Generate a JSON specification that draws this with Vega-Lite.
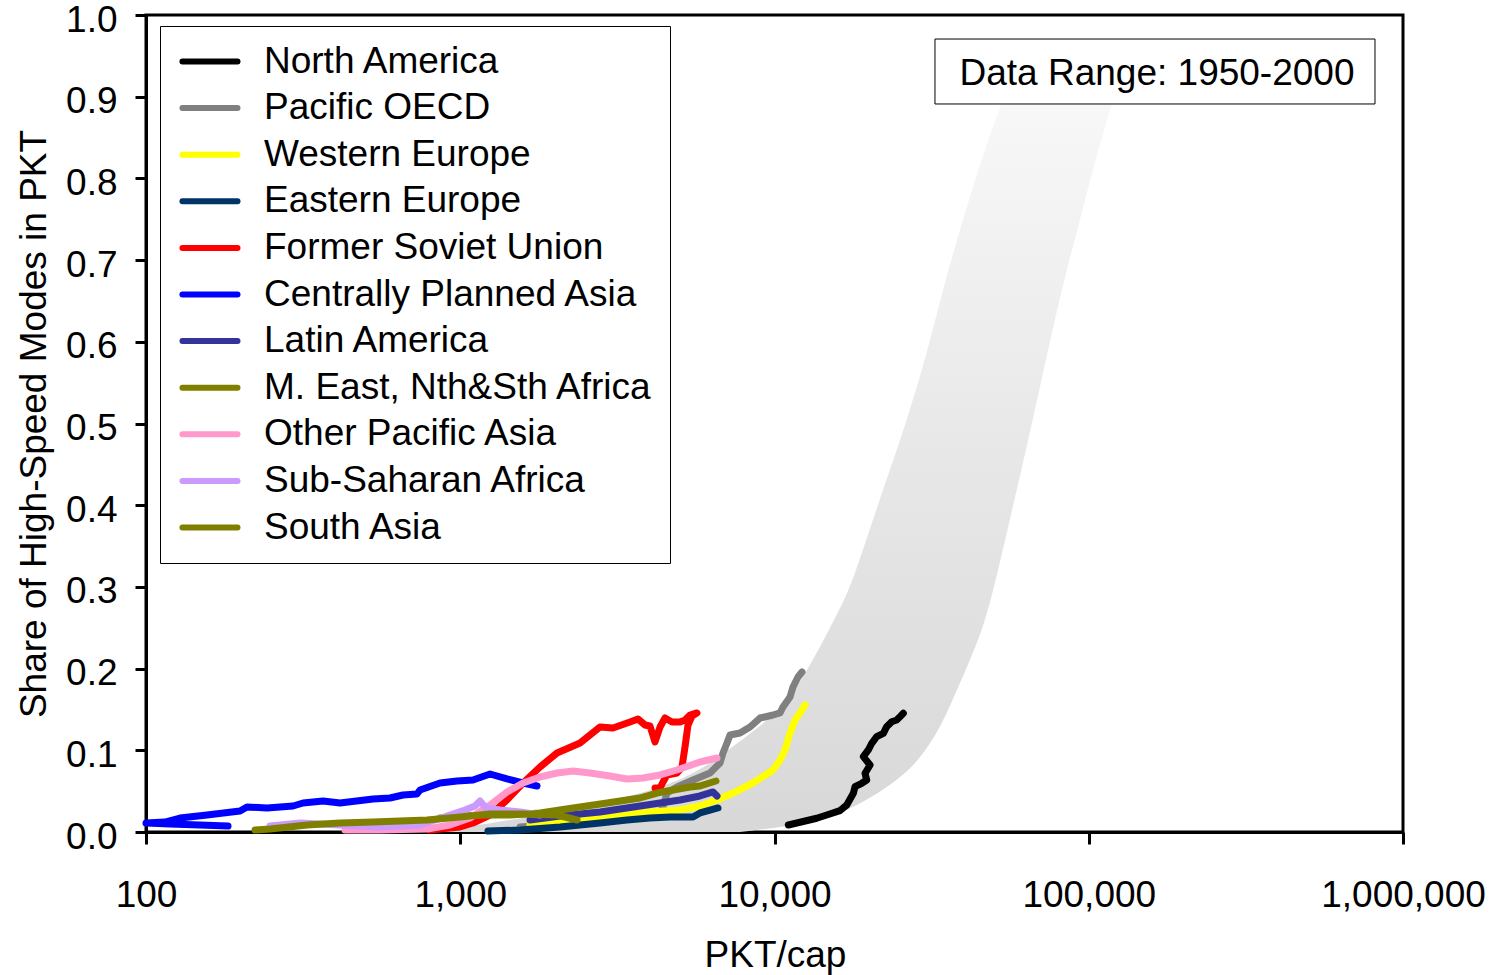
{
  "$schema": "https://vega.github.io/schema/vega-lite/v6.json",
  "width": 1257,
  "height": 817,
  "autosize": {"type": "none"},
  "padding": {"left": 146, "top": 15, "right": 89, "bottom": 143},
  "background": "white",
  "config": {
    "font": "Liberation Sans",
    "view": {"stroke": "#000", "strokeWidth": 3},
    "axis": {"grid": false, "domainColor": "#000", "domainWidth": 3, "tickColor": "#000", "tickWidth": 3, "labelColor": "#000", "titleColor": "#000", "labelFont": "Liberation Sans", "titleFont": "Liberation Sans", "titleFontWeight": "normal"}
  },
  "datasets": {
    "band": [
      {"y": 0.0, "xl": 745, "xr": 7766},
      {"y": 0.01, "xl": 1243, "xr": 12790},
      {"y": 0.025, "xl": 2077, "xr": 16880},
      {"y": 0.05, "xl": 4166, "xr": 21990},
      {"y": 0.075, "xl": 5793, "xr": 26790},
      {"y": 0.1, "xl": 7112, "xr": 30350},
      {"y": 0.13, "xl": 9058, "xr": 33870},
      {"y": 0.16, "xl": 11040, "xr": 36710},
      {"y": 0.21, "xl": 13260, "xr": 41890},
      {"y": 0.25, "xl": 15020, "xr": 46070},
      {"y": 0.29, "xl": 17010, "xr": 49230},
      {"y": 0.33, "xl": 18570, "xr": 52190},
      {"y": 0.42, "xl": 22150, "xr": 59100},
      {"y": 0.5, "xl": 26210, "xr": 65970},
      {"y": 0.59, "xl": 30800, "xr": 74190},
      {"y": 0.67, "xl": 34630, "xr": 82800},
      {"y": 0.75, "xl": 39800, "xr": 93800},
      {"y": 0.83, "xl": 46070, "xr": 106250},
      {"y": 0.9, "xl": 53750, "xr": 120300}
    ],
    "lines": [
      {"r": "North America", "o": 1, "x": 11065, "y": 0.0086},
      {"r": "North America", "o": 2, "x": 12053, "y": 0.0119},
      {"r": "North America", "o": 3, "x": 13625, "y": 0.0168},
      {"r": "North America", "o": 4, "x": 14660, "y": 0.0208},
      {"r": "North America", "o": 5, "x": 16160, "y": 0.0261},
      {"r": "North America", "o": 6, "x": 16980, "y": 0.0330},
      {"r": "North America", "o": 7, "x": 17820, "y": 0.0474},
      {"r": "North America", "o": 8, "x": 18040, "y": 0.0554},
      {"r": "North America", "o": 9, "x": 18950, "y": 0.0596},
      {"r": "North America", "o": 10, "x": 19660, "y": 0.0636},
      {"r": "North America", "o": 11, "x": 19410, "y": 0.0718},
      {"r": "North America", "o": 12, "x": 20140, "y": 0.0820},
      {"r": "North America", "o": 13, "x": 19170, "y": 0.0922},
      {"r": "North America", "o": 14, "x": 19890, "y": 0.1004},
      {"r": "North America", "o": 15, "x": 20390, "y": 0.1086},
      {"r": "North America", "o": 16, "x": 21150, "y": 0.1167},
      {"r": "North America", "o": 17, "x": 22200, "y": 0.1208},
      {"r": "North America", "o": 18, "x": 22750, "y": 0.1289},
      {"r": "North America", "o": 19, "x": 23600, "y": 0.1350},
      {"r": "North America", "o": 20, "x": 24480, "y": 0.1371},
      {"r": "North America", "o": 21, "x": 25080, "y": 0.1411},
      {"r": "North America", "o": 22, "x": 25700, "y": 0.1453},

      {"r": "Pacific OECD", "o": 1, "x": 1550, "y": 0.0061},
      {"r": "Pacific OECD", "o": 2, "x": 2077, "y": 0.0098},
      {"r": "Pacific OECD", "o": 3, "x": 2784, "y": 0.0135},
      {"r": "Pacific OECD", "o": 4, "x": 3733, "y": 0.0184},
      {"r": "Pacific OECD", "o": 5, "x": 4322, "y": 0.0245},
      {"r": "Pacific OECD", "o": 6, "x": 4418, "y": 0.0306},
      {"r": "Pacific OECD", "o": 7, "x": 4549, "y": 0.0477},
      {"r": "Pacific OECD", "o": 8, "x": 4895, "y": 0.0551},
      {"r": "Pacific OECD", "o": 9, "x": 5504, "y": 0.0636},
      {"r": "Pacific OECD", "o": 10, "x": 6234, "y": 0.0722},
      {"r": "Pacific OECD", "o": 11, "x": 6708, "y": 0.0845},
      {"r": "Pacific OECD", "o": 12, "x": 6857, "y": 0.0967},
      {"r": "Pacific OECD", "o": 13, "x": 7061, "y": 0.1089},
      {"r": "Pacific OECD", "o": 14, "x": 7218, "y": 0.1187},
      {"r": "Pacific OECD", "o": 15, "x": 7766, "y": 0.1212},
      {"r": "Pacific OECD", "o": 16, "x": 8357, "y": 0.1285},
      {"r": "Pacific OECD", "o": 17, "x": 8991, "y": 0.1395},
      {"r": "Pacific OECD", "o": 18, "x": 9891, "y": 0.1432},
      {"r": "Pacific OECD", "o": 19, "x": 10411, "y": 0.1457},
      {"r": "Pacific OECD", "o": 20, "x": 10642, "y": 0.1530},
      {"r": "Pacific OECD", "o": 21, "x": 11202, "y": 0.1652},
      {"r": "Pacific OECD", "o": 22, "x": 11451, "y": 0.1775},
      {"r": "Pacific OECD", "o": 23, "x": 11878, "y": 0.1897},
      {"r": "Pacific OECD", "o": 24, "x": 12231, "y": 0.1958},

      {"r": "Western Europe", "o": 1, "x": 1667, "y": 0.0086},
      {"r": "Western Europe", "o": 2, "x": 2077, "y": 0.0135},
      {"r": "Western Europe", "o": 3, "x": 2587, "y": 0.0171},
      {"r": "Western Europe", "o": 4, "x": 3223, "y": 0.0208},
      {"r": "Western Europe", "o": 5, "x": 4016, "y": 0.0245},
      {"r": "Western Europe", "o": 6, "x": 5004, "y": 0.0269},
      {"r": "Western Europe", "o": 7, "x": 5793, "y": 0.0318},
      {"r": "Western Europe", "o": 8, "x": 6562, "y": 0.0392},
      {"r": "Western Europe", "o": 9, "x": 7378, "y": 0.0477},
      {"r": "Western Europe", "o": 10, "x": 8542, "y": 0.0600},
      {"r": "Western Europe", "o": 11, "x": 9891, "y": 0.0759},
      {"r": "Western Europe", "o": 12, "x": 10411, "y": 0.0881},
      {"r": "Western Europe", "o": 13, "x": 10799, "y": 0.1004},
      {"r": "Western Europe", "o": 14, "x": 11202, "y": 0.1212},
      {"r": "Western Europe", "o": 15, "x": 11620, "y": 0.1371},
      {"r": "Western Europe", "o": 16, "x": 12053, "y": 0.1457},
      {"r": "Western Europe", "o": 17, "x": 12503, "y": 0.1554},

      {"r": "Eastern Europe", "o": 1, "x": 1225, "y": 0.0012},
      {"r": "Eastern Europe", "o": 2, "x": 1550, "y": 0.0024},
      {"r": "Eastern Europe", "o": 3, "x": 2077, "y": 0.0061},
      {"r": "Eastern Europe", "o": 4, "x": 2784, "y": 0.0110},
      {"r": "Eastern Europe", "o": 5, "x": 3393, "y": 0.0147},
      {"r": "Eastern Europe", "o": 6, "x": 4016, "y": 0.0171},
      {"r": "Eastern Europe", "o": 7, "x": 4650, "y": 0.0184},
      {"r": "Eastern Europe", "o": 8, "x": 5504, "y": 0.0184},
      {"r": "Eastern Europe", "o": 9, "x": 5793, "y": 0.0233},
      {"r": "Eastern Europe", "o": 10, "x": 6234, "y": 0.0269},
      {"r": "Eastern Europe", "o": 11, "x": 6610, "y": 0.0294},

      {"r": "Former Soviet Union", "o": 1, "x": 801, "y": 0.0024},
      {"r": "Former Soviet Union", "o": 2, "x": 998, "y": 0.0061},
      {"r": "Former Soviet Union", "o": 3, "x": 1098, "y": 0.0110},
      {"r": "Former Soviet Union", "o": 4, "x": 1244, "y": 0.0208},
      {"r": "Former Soviet Union", "o": 5, "x": 1409, "y": 0.0392},
      {"r": "Former Soviet Union", "o": 6, "x": 1584, "y": 0.0600},
      {"r": "Former Soviet Union", "o": 7, "x": 1794, "y": 0.0796},
      {"r": "Former Soviet Union", "o": 8, "x": 2032, "y": 0.0967},
      {"r": "Former Soviet Union", "o": 9, "x": 2405, "y": 0.1089},
      {"r": "Former Soviet Union", "o": 10, "x": 2784, "y": 0.1285},
      {"r": "Former Soviet Union", "o": 11, "x": 3062, "y": 0.1273},
      {"r": "Former Soviet Union", "o": 12, "x": 3469, "y": 0.1346},
      {"r": "Former Soviet Union", "o": 13, "x": 3678, "y": 0.1383},
      {"r": "Former Soviet Union", "o": 14, "x": 3872, "y": 0.1310},
      {"r": "Former Soviet Union", "o": 15, "x": 4016, "y": 0.1297},
      {"r": "Former Soviet Union", "o": 16, "x": 4166, "y": 0.1102},
      {"r": "Former Soviet Union", "o": 17, "x": 4322, "y": 0.1285},
      {"r": "Former Soviet Union", "o": 18, "x": 4483, "y": 0.1395},
      {"r": "Former Soviet Union", "o": 19, "x": 4719, "y": 0.1346},
      {"r": "Former Soviet Union", "o": 20, "x": 5004, "y": 0.1346},
      {"r": "Former Soviet Union", "o": 21, "x": 5190, "y": 0.1371},
      {"r": "Former Soviet Union", "o": 22, "x": 5384, "y": 0.1432},
      {"r": "Former Soviet Union", "o": 23, "x": 5667, "y": 0.1457},
      {"r": "Former Soviet Union", "o": 24, "x": 5464, "y": 0.1420},
      {"r": "Former Soviet Union", "o": 25, "x": 5306, "y": 0.1310},
      {"r": "Former Soviet Union", "o": 26, "x": 5190, "y": 0.1040},
      {"r": "Former Soviet Union", "o": 27, "x": 5078, "y": 0.0796},
      {"r": "Former Soviet Union", "o": 28, "x": 4895, "y": 0.0722},
      {"r": "Former Soviet Union", "o": 29, "x": 4549, "y": 0.0698},
      {"r": "Former Soviet Union", "o": 30, "x": 4418, "y": 0.0612},
      {"r": "Former Soviet Union", "o": 31, "x": 4322, "y": 0.0539},
      {"r": "Former Soviet Union", "o": 32, "x": 4166, "y": 0.0539},

      {"r": "Centrally Planned Asia", "o": 1, "x": 182.4, "y": 0.0073},
      {"r": "Centrally Planned Asia", "o": 2, "x": 148.5, "y": 0.0086},
      {"r": "Centrally Planned Asia", "o": 3, "x": 119.2, "y": 0.0098},
      {"r": "Centrally Planned Asia", "o": 4, "x": 100, "y": 0.0110},
      {"r": "Centrally Planned Asia", "o": 5, "x": 114.9, "y": 0.0122},
      {"r": "Centrally Planned Asia", "o": 6, "x": 128.3, "y": 0.0171},
      {"r": "Centrally Planned Asia", "o": 7, "x": 156.4, "y": 0.0208},
      {"r": "Centrally Planned Asia", "o": 8, "x": 199.2, "y": 0.0257},
      {"r": "Centrally Planned Asia", "o": 9, "x": 209.6, "y": 0.0306},
      {"r": "Centrally Planned Asia", "o": 10, "x": 242.7, "y": 0.0294},
      {"r": "Centrally Planned Asia", "o": 11, "x": 293.7, "y": 0.0318},
      {"r": "Centrally Planned Asia", "o": 12, "x": 316.0, "y": 0.0355},
      {"r": "Centrally Planned Asia", "o": 13, "x": 365.9, "y": 0.0379},
      {"r": "Centrally Planned Asia", "o": 14, "x": 414.4, "y": 0.0355},
      {"r": "Centrally Planned Asia", "o": 15, "x": 527.8, "y": 0.0404},
      {"r": "Centrally Planned Asia", "o": 16, "x": 597.6, "y": 0.0416},
      {"r": "Centrally Planned Asia", "o": 17, "x": 657.5, "y": 0.0453},
      {"r": "Centrally Planned Asia", "o": 18, "x": 728.4, "y": 0.0465},
      {"r": "Centrally Planned Asia", "o": 19, "x": 744.6, "y": 0.0514},
      {"r": "Centrally Planned Asia", "o": 20, "x": 862.1, "y": 0.0600},
      {"r": "Centrally Planned Asia", "o": 21, "x": 976.5, "y": 0.0624},
      {"r": "Centrally Planned Asia", "o": 22, "x": 1098, "y": 0.0636},
      {"r": "Centrally Planned Asia", "o": 23, "x": 1244, "y": 0.0710},
      {"r": "Centrally Planned Asia", "o": 24, "x": 1409, "y": 0.0649},
      {"r": "Centrally Planned Asia", "o": 25, "x": 1584, "y": 0.0600},
      {"r": "Centrally Planned Asia", "o": 26, "x": 1755, "y": 0.0563},

      {"r": "Latin America", "o": 1, "x": 1667, "y": 0.0147},
      {"r": "Latin America", "o": 2, "x": 2077, "y": 0.0196},
      {"r": "Latin America", "o": 3, "x": 2784, "y": 0.0245},
      {"r": "Latin America", "o": 4, "x": 3733, "y": 0.0318},
      {"r": "Latin America", "o": 5, "x": 4322, "y": 0.0355},
      {"r": "Latin America", "o": 6, "x": 5004, "y": 0.0392},
      {"r": "Latin America", "o": 7, "x": 5793, "y": 0.0441},
      {"r": "Latin America", "o": 8, "x": 6373, "y": 0.0490},
      {"r": "Latin America", "o": 9, "x": 6562, "y": 0.0441},

      {"r": "M. East, Nth&Sth Africa", "o": 1, "x": 862, "y": 0.0171},
      {"r": "M. East, Nth&Sth Africa", "o": 2, "x": 1156, "y": 0.0208},
      {"r": "M. East, Nth&Sth Africa", "o": 3, "x": 1440, "y": 0.0208},
      {"r": "M. East, Nth&Sth Africa", "o": 4, "x": 1794, "y": 0.0233},
      {"r": "M. East, Nth&Sth Africa", "o": 5, "x": 2285, "y": 0.0294},
      {"r": "M. East, Nth&Sth Africa", "o": 6, "x": 2931, "y": 0.0355},
      {"r": "M. East, Nth&Sth Africa", "o": 7, "x": 3733, "y": 0.0416},
      {"r": "M. East, Nth&Sth Africa", "o": 8, "x": 4227, "y": 0.0477},
      {"r": "M. East, Nth&Sth Africa", "o": 9, "x": 4753, "y": 0.0514},
      {"r": "M. East, Nth&Sth Africa", "o": 10, "x": 5384, "y": 0.0551},
      {"r": "M. East, Nth&Sth Africa", "o": 11, "x": 5793, "y": 0.0563},
      {"r": "M. East, Nth&Sth Africa", "o": 12, "x": 6514, "y": 0.0624},

      {"r": "Other Pacific Asia", "o": 1, "x": 429.8, "y": 0.0024},
      {"r": "Other Pacific Asia", "o": 2, "x": 555.6, "y": 0.0024},
      {"r": "Other Pacific Asia", "o": 3, "x": 783.7, "y": 0.0037},
      {"r": "Other Pacific Asia", "o": 4, "x": 927.7, "y": 0.0086},
      {"r": "Other Pacific Asia", "o": 5, "x": 1074, "y": 0.0171},
      {"r": "Other Pacific Asia", "o": 6, "x": 1244, "y": 0.0330},
      {"r": "Other Pacific Asia", "o": 7, "x": 1409, "y": 0.0490},
      {"r": "Other Pacific Asia", "o": 8, "x": 1584, "y": 0.0600},
      {"r": "Other Pacific Asia", "o": 9, "x": 1794, "y": 0.0673},
      {"r": "Other Pacific Asia", "o": 10, "x": 2032, "y": 0.0722},
      {"r": "Other Pacific Asia", "o": 11, "x": 2285, "y": 0.0747},
      {"r": "Other Pacific Asia", "o": 12, "x": 2587, "y": 0.0722},
      {"r": "Other Pacific Asia", "o": 13, "x": 2996, "y": 0.0685},
      {"r": "Other Pacific Asia", "o": 14, "x": 3393, "y": 0.0649},
      {"r": "Other Pacific Asia", "o": 15, "x": 3815, "y": 0.0661},
      {"r": "Other Pacific Asia", "o": 16, "x": 4322, "y": 0.0698},
      {"r": "Other Pacific Asia", "o": 17, "x": 4895, "y": 0.0759},
      {"r": "Other Pacific Asia", "o": 18, "x": 5793, "y": 0.0857},
      {"r": "Other Pacific Asia", "o": 19, "x": 6562, "y": 0.0906},

      {"r": "Sub-Saharan Africa", "o": 1, "x": 248.1, "y": 0.0073},
      {"r": "Sub-Saharan Africa", "o": 2, "x": 309.1, "y": 0.0110},
      {"r": "Sub-Saharan Africa", "o": 3, "x": 414.4, "y": 0.0086},
      {"r": "Sub-Saharan Africa", "o": 4, "x": 555.6, "y": 0.0061},
      {"r": "Sub-Saharan Africa", "o": 5, "x": 744.6, "y": 0.0086},
      {"r": "Sub-Saharan Africa", "o": 6, "x": 927.7, "y": 0.0208},
      {"r": "Sub-Saharan Africa", "o": 7, "x": 1035, "y": 0.0269},
      {"r": "Sub-Saharan Africa", "o": 8, "x": 1114, "y": 0.0318},
      {"r": "Sub-Saharan Africa", "o": 9, "x": 1156, "y": 0.0379},
      {"r": "Sub-Saharan Africa", "o": 10, "x": 1208, "y": 0.0294},
      {"r": "Sub-Saharan Africa", "o": 11, "x": 1338, "y": 0.0269},
      {"r": "Sub-Saharan Africa", "o": 12, "x": 1550, "y": 0.0245},
      {"r": "Sub-Saharan Africa", "o": 13, "x": 1794, "y": 0.0208},

      {"r": "South Asia", "o": 1, "x": 222.3, "y": 0.0024},
      {"r": "South Asia", "o": 2, "x": 248.1, "y": 0.0037},
      {"r": "South Asia", "o": 3, "x": 325.3, "y": 0.0086},
      {"r": "South Asia", "o": 4, "x": 414.4, "y": 0.0110},
      {"r": "South Asia", "o": 5, "x": 527.8, "y": 0.0122},
      {"r": "South Asia", "o": 6, "x": 643.2, "y": 0.0135},
      {"r": "South Asia", "o": 7, "x": 783.7, "y": 0.0147},
      {"r": "South Asia", "o": 8, "x": 998.2, "y": 0.0184},
      {"r": "South Asia", "o": 9, "x": 1244, "y": 0.0220},
      {"r": "South Asia", "o": 10, "x": 1584, "y": 0.0220},
      {"r": "South Asia", "o": 11, "x": 2032, "y": 0.0208},
      {"r": "South Asia", "o": 12, "x": 2353, "y": 0.0147}
    ]
  },
  "layer": [
    {
      "data": {"name": "band"},
      "mark": {
        "type": "area",
        "orient": "horizontal",
        "interpolate": "basis",
        "color": {
          "gradient": "linear",
          "x1": 0, "y1": 1, "x2": 0, "y2": 0,
          "stops": [
            {"offset": 0, "color": "#d8d8d8"},
            {"offset": 0.5, "color": "#e7e7e7"},
            {"offset": 1, "color": "#f8f8f8"}
          ]
        }
      },
      "encoding": {
        "y": {
          "field": "y", "type": "quantitative",
          "scale": {"domain": [0, 1], "nice": false, "zero": false},
          "axis": {
            "values": [0, 0.1, 0.2, 0.3, 0.4, 0.5, 0.6, 0.7, 0.8, 0.9, 1.0],
            "format": ".1f",
            "labelFontSize": 37,
            "labelPadding": 18,
            "labelOffset": 5,
            "tickSize": 11,
            "title": "Share of High-Speed Modes in PKT",
            "titleFontSize": 37,
            "titleX": -101,
            "titleY": 408.5,
            "titleAngle": -90,
            "titleAlign": "center",
            "titleBaseline": "alphabetic"
          }
        },
        "x": {
          "field": "xl", "type": "quantitative", "stack": null,
          "scale": {"type": "log", "domain": [100, 1000000], "nice": false},
          "axis": {
            "values": [100, 1000, 10000, 100000, 1000000],
            "format": ",",
            "labelFontSize": 37,
            "labelBaseline": "alphabetic",
            "labelPadding": 62,
            "labelFlush": false,
            "labelOverlap": false,
            "tickSize": 12,
            "title": "PKT/cap",
            "titleFontSize": 37,
            "titleX": 629,
            "titleY": 134,
            "titleAlign": "center",
            "titleBaseline": "alphabetic"
          }
        },
        "x2": {"field": "xr"}
      }
    },
    {
      "data": {"name": "lines"},
      "mark": {"type": "line", "strokeWidth": 7, "strokeCap": "round", "strokeJoin": "round"},
      "encoding": {
        "x": {"field": "x", "type": "quantitative"},
        "y": {"field": "y", "type": "quantitative"},
        "order": {"field": "o", "type": "quantitative"},
        "color": {
          "field": "r", "type": "nominal",
          "scale": {
            "domain": ["North America", "Pacific OECD", "Western Europe", "Eastern Europe", "Former Soviet Union", "Centrally Planned Asia", "Latin America", "M. East, Nth&Sth Africa", "Other Pacific Asia", "Sub-Saharan Africa", "South Asia"],
            "range": ["#000000", "#808080", "#ffff00", "#003366", "#ff0000", "#0000ff", "#333399", "#808000", "#ff99cc", "#cc99ff", "#808000"]
          },
          "legend": {
            "orient": "none",
            "legendX": 14,
            "legendY": 11,
            "title": null,
            "symbolType": "M-0.87,0H2.8",
            "symbolSize": 900,
            "symbolStrokeWidth": 6,
            "labelFontSize": 37,
            "labelFont": "Liberation Sans",
            "labelColor": "#000",
            "labelOffset": 50,
            "labelLimit": 600,
            "rowPadding": 8.6,
            "padding": 17,
            "strokeColor": "#000",
            "fillColor": "#fff",
            "encode": {"symbols": {"update": {"strokeCap": {"value": "round"}}}}
          }
        }
      }
    },
    {
      "data": {"values": [{"x": 32410, "x2": 814500, "y": 0.9706, "y2": 0.8911}]},
      "mark": {"type": "rect", "fill": "#ffffff", "stroke": "#000000", "strokeWidth": 1},
      "encoding": {
        "x": {"field": "x", "type": "quantitative"},
        "x2": {"field": "x2"},
        "y": {"field": "y", "type": "quantitative"},
        "y2": {"field": "y2"}
      }
    },
    {
      "data": {"values": [{"x": 164900, "y": 0.9280, "label": "Data Range: 1950-2000"}]},
      "mark": {"type": "text", "fontSize": 37, "font": "Liberation Sans", "align": "center", "baseline": "middle", "color": "#000"},
      "encoding": {
        "x": {"field": "x", "type": "quantitative"},
        "y": {"field": "y", "type": "quantitative"},
        "text": {"field": "label"}
      }
    }
  ]
}
